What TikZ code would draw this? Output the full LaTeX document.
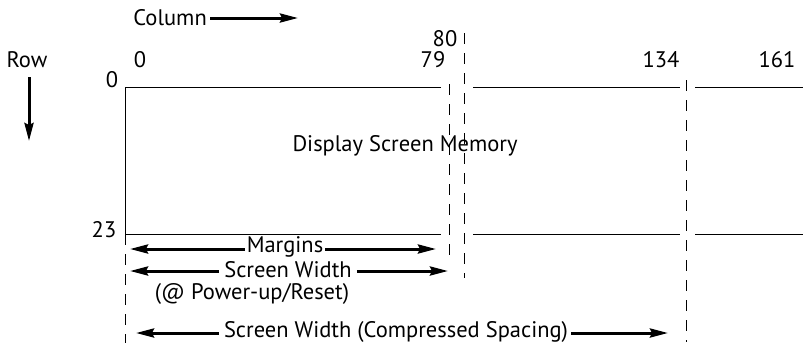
\documentclass[tikz,border=0pt]{standalone}
\usepackage{fontspec}
\setmainfont{PT Sans}
\usetikzlibrary{arrows.meta}
\begin{document}
\begin{tikzpicture}[x=1pt,y=-1pt,
  lbl/.style={inner sep=0pt,font=\fontsize{22.5}{24}\selectfont},
  thin line/.style={line width=1pt},
  dash line/.style={line width=1pt,dash pattern=on 11pt off 9pt},
  bigarrow/.style={line width=3pt,-{Stealth[length=18pt,width=9pt,inset=2pt]}}]
\useasboundingbox (0,0) rectangle (803,349);
% header
\node[lbl,anchor=east] (col) at (207,18) {Column};
\coordinate (colend) at (298,18);
\draw[bigarrow] (col.east) ++(3,0) coordinate (colstart) -- (colend);
\node[lbl] (row) at (27,60) {Row};
\coordinate (rowtop) at (29,77);
\coordinate (rowend) at (29,141);
\draw[bigarrow] (rowtop) -- (rowend);
% column labels
\node[lbl] (c0) at (140,60) {0};
\node[lbl] (c79) at (433,60) {79};
\node[lbl] (c80) at (445,39) {80};
\node[lbl] (c134) at (661,60) {134};
\node[lbl] (c161) at (777,60) {161};
% row labels
\node[lbl] (r0) at (112,80) {0};
\node[lbl] (r23) at (104,230) {23};
% box lines
\coordinate (tl) at (125,87);
\coordinate (bl) at (125,234);
\draw[thin line] (441,87) -- (tl) -- (bl) -- (441,234);
\draw[thin line] (473,87) -- (680,87);
\draw[thin line] (473,234) -- (680,234);
\draw[thin line] (695,87) -- (803,87);
\draw[thin line] (695,234) -- (803,234);
% dashed verticals
\draw[dash line] (bl) -- (125,343);
\draw[dash line] (449,84) -- (449,256);
\draw[dash line] (464,33) -- (464,278);
\draw[dash line] (686,80) -- (686,342);
% center text
\node[lbl] (dsm) at (405,146) {Display Screen Memory};
% margins
\node[lbl] (marg) at (285,247) {Margins};
\coordinate (mL) at (130,249);
\coordinate (mR) at (436,249);
\draw[bigarrow] (marg.west) ++(-2,2) -- (mL);
\draw[bigarrow] (marg.east) ++(2,2) -- (mR);
% screen width
\node[lbl] (sw) at (288,270) {Screen Width};
\coordinate (sL) at (130,271);
\coordinate (sR) at (448,271);
\draw[bigarrow] (sw.west) ++(-5,1) -- (sL);
\draw[bigarrow] (sw.east) ++(5,1) -- (sR);
\node[lbl] (pur) at (252,294) {(@ Power-up/Reset)};
% compressed
\node[lbl] (cs) at (396,332) {Screen Width (Compressed Spacing)};
\coordinate (cL) at (136,333);
\coordinate (cR) at (668,333);
\draw[bigarrow] (cs.west) ++(-5,1) -- (cL);
\draw[bigarrow] (cs.east) ++(3,1) -- (cR);
\end{tikzpicture}
\end{document}
